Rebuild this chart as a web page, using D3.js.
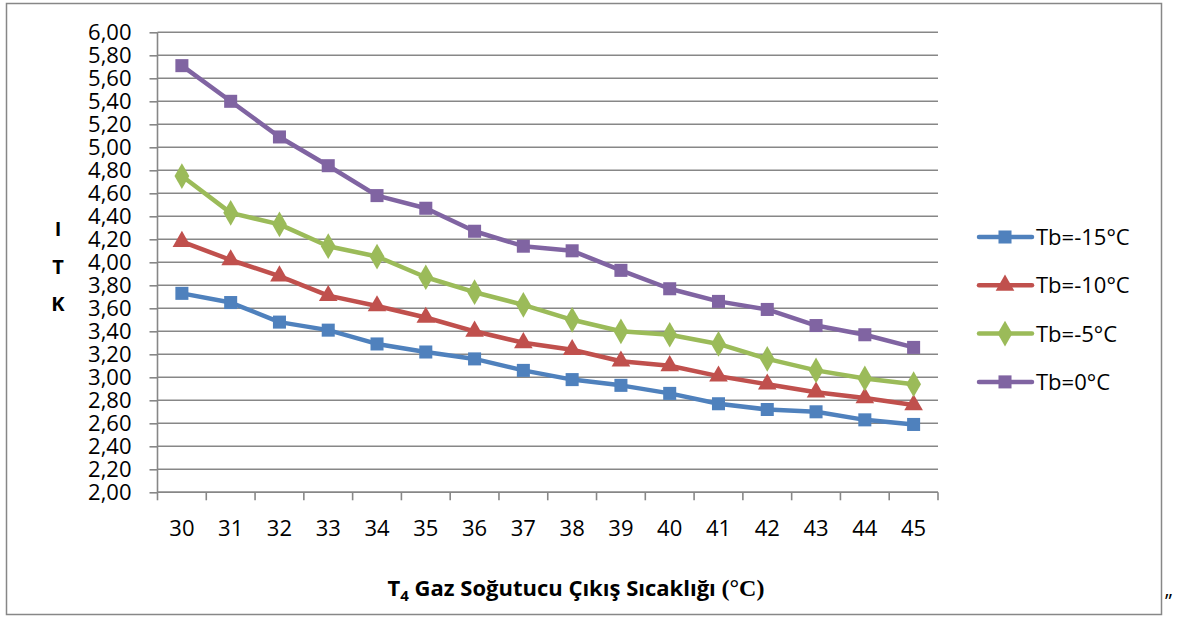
<!DOCTYPE html>
<html>
<head>
<meta charset="utf-8">
<script src="https://cdn.jsdelivr.net/npm/d3@7"></script>
<style>
  body { margin: 0; background: #fff; }
  svg { display: block; }
</style>
</head>
<body>
<svg id="chart"></svg>
<script>
// data
const categories = [30, 31, 32, 33, 34, 35, 36, 37, 38, 39, 40, 41, 42, 43, 44, 45];
const tbMinus15 = [3.73, 3.65, 3.48, 3.41, 3.29, 3.22, 3.16, 3.06, 2.98, 2.93, 2.86, 2.77, 2.72, 2.70, 2.63, 2.59];
const tbMinus10 = [4.18, 4.02, 3.88, 3.71, 3.62, 3.52, 3.40, 3.30, 3.24, 3.14, 3.10, 3.01, 2.94, 2.87, 2.82, 2.76];
const tbMinus5  = [4.75, 4.43, 4.33, 4.14, 4.05, 3.87, 3.74, 3.63, 3.50, 3.40, 3.37, 3.29, 3.16, 3.06, 2.99, 2.94];
const tb0       = [5.71, 5.40, 5.09, 4.84, 4.58, 4.47, 4.27, 4.14, 4.10, 3.93, 3.77, 3.66, 3.59, 3.45, 3.37, 3.26];
const seriesNames = ["Tb=-15°C", "Tb=-10°C", "Tb=-5°C", "Tb=0°C"];
const yTicks = d3.range(2, 6.001, 0.2);

const series = [
  { name: seriesNames[0], values: tbMinus15, color: "#4F81BD", symbol: d3.symbolSquare, size: 170 },
  { name: seriesNames[1], values: tbMinus10, color: "#C0504D", symbol: d3.symbolTriangle, size: 150 },
  { name: seriesNames[2], values: tbMinus5,  color: "#9BBB59", symbol: d3.symbolDiamond, size: 190 },
  { name: seriesNames[3], values: tb0,       color: "#8064A2", symbol: d3.symbolSquare, size: 170 }
];

const W = 1177, H = 617;
const svg = d3.select("#chart").attr("width", W).attr("height", H);
const font = "'Open Sans', sans-serif";
const grey = "#878787";

// outer frame
svg.append("rect")
  .attr("x", 6.5).attr("y", 3.5)
  .attr("width", 1155).attr("height", 611)
  .attr("fill", "none").attr("stroke", grey).attr("stroke-width", 1.5);

const plotLeft = 157.5, plotRight = 938, plotTop = 32.3, plotBottom = 492.3;

const x = d3.scaleBand().domain(categories).range([plotLeft, plotRight]);
const y = d3.scaleLinear().domain([2, 6]).range([plotBottom, plotTop]);

// horizontal grid
svg.append("g")
  .selectAll("line")
  .data(yTicks)
  .join("line")
    .attr("x1", plotLeft).attr("x2", plotRight)
    .attr("y1", d => y(d)).attr("y2", d => y(d))
    .attr("stroke", grey).attr("stroke-width", 1.6);

// y axis
const yAxis = svg.append("g")
  .attr("transform", `translate(${plotLeft},0)`)
  .call(d3.axisLeft(y).tickValues(yTicks).tickSize(8).tickPadding(18)
    .tickFormat(d => d3.format(".2f")(d).replace(".", ",")));
yAxis.selectAll("line").attr("stroke", grey).attr("stroke-width", 1.6);
yAxis.select(".domain").attr("stroke", grey).attr("stroke-width", 1.6).attr("d", `M0,${plotTop}V${plotBottom}`);
yAxis.selectAll("text").attr("font-family", font).attr("font-size", 22).attr("fill", "#000");

// x axis: ticks on band boundaries
const xAxis = svg.append("g").attr("transform", `translate(0,${plotBottom})`);
xAxis.append("line").attr("x1", plotLeft).attr("x2", plotRight).attr("stroke", grey).attr("stroke-width", 1.6);
xAxis.selectAll(".tk")
  .data(categories.concat([null]))
  .join("line")
    .attr("class", "tk")
    .attr("x1", (d, i) => plotLeft + i * x.step()).attr("x2", (d, i) => plotLeft + i * x.step())
    .attr("y1", 0).attr("y2", 8)
    .attr("stroke", grey).attr("stroke-width", 1.6);
xAxis.selectAll("text")
  .data(categories)
  .join("text")
    .attr("x", d => x(d) + x.bandwidth() / 2)
    .attr("y", 44)
    .attr("text-anchor", "middle")
    .attr("font-family", font).attr("font-size", 22)
    .text(d => d);

// lines and markers
const line = d3.line()
  .x((d, i) => x(categories[i]) + x.bandwidth() / 2)
  .y(d => y(d));

series.forEach(s => {
  svg.append("path")
    .attr("d", line(s.values))
    .attr("fill", "none")
    .attr("stroke", s.color).attr("stroke-width", 4.5)
    .attr("stroke-linejoin", "round");
  svg.append("g")
    .selectAll("path")
    .data(s.values)
    .join("path")
      .attr("transform", (d, i) => `translate(${x(categories[i]) + x.bandwidth() / 2},${y(d)})`)
      .attr("d", d3.symbol().type(s.symbol).size(s.size))
      .attr("fill", s.color);
});

// legend
const legend = svg.append("g");
series.forEach((s, i) => {
  const ly = 237 + i * 48.3;
  legend.append("line")
    .attr("x1", 979).attr("x2", 1032).attr("y1", ly).attr("y2", ly)
    .attr("stroke", s.color).attr("stroke-width", 4.5).attr("stroke-linecap", "round");
  legend.append("path")
    .attr("transform", `translate(1005,${ly})`)
    .attr("d", d3.symbol().type(s.symbol).size(s.size))
    .attr("fill", s.color);
  legend.append("text")
    .attr("x", 1036).attr("y", ly + 8)
    .attr("font-family", font).attr("font-size", 22)
    .text(s.name);
});

// y title, stacked letters
["I", "T", "K"].forEach((c, i) => {
  svg.append("text")
    .attr("x", 58).attr("y", 236 + i * 37.5)
    .attr("text-anchor", "middle")
    .attr("font-family", font).attr("font-weight", "bold").attr("font-size", 20)
    .text(c);
});

// x title
const xt = svg.append("text")
  .attr("x", 576).attr("y", 596)
  .attr("text-anchor", "middle")
  .attr("font-family", font).attr("font-weight", "bold").attr("font-size", 22);
xt.append("tspan").text("T");
xt.append("tspan").attr("font-size", 15).attr("dy", 5).text("4");
xt.append("tspan").attr("dy", -5).text(" Gaz Soğutucu Çıkış Sıcaklığı ");
xt.append("tspan").attr("font-family", "'Liberation Serif', serif").attr("font-size", 24).text("(°C)");

// stray quote mark to the right of the frame
svg.append("text")
  .attr("x", 1165).attr("y", 608)
  .attr("font-family", font).attr("font-size", 20)
  .text("”");
</script>
</body>
</html>
